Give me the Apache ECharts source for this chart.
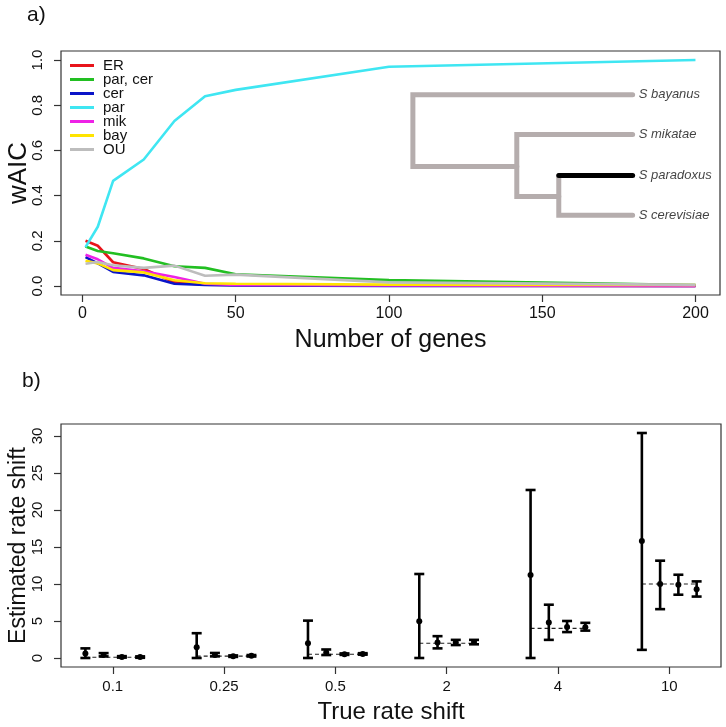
<!DOCTYPE html>
<html><head><meta charset="utf-8">
<script src="https://cdn.jsdelivr.net/npm/echarts@6/dist/echarts.min.js"></script>
<style>html,body{margin:0;padding:0;background:#fff}#c{width:726px;height:727px}</style>
</head><body><div id="c"></div>
<script>
// ---------- panel a) data ----------
const genes   = [1, 5, 10, 20, 30, 40, 50, 100, 200];
const wER     = [0.200, 0.178, 0.105, 0.075, 0.016, 0.006, 0.004, 0.001, 0.000];
const wParCer = [0.175, 0.155, 0.145, 0.122, 0.087, 0.080, 0.052, 0.026, 0.004];
const wCer    = [0.128, 0.100, 0.062, 0.047, 0.010, 0.005, 0.002, 0.000, 0.000];
const wPar    = [0.172, 0.262, 0.465, 0.560, 0.730, 0.840, 0.868, 0.970, 1.000];
const wMik    = [0.138, 0.118, 0.080, 0.065, 0.040, 0.010, 0.004, 0.002, 0.000];
const wBay    = [0.112, 0.100, 0.070, 0.060, 0.025, 0.012, 0.010, 0.006, 0.004];
const wOU     = [0.098, 0.106, 0.092, 0.080, 0.090, 0.045, 0.050, 0.016, 0.005];
const seriesNames = ['ER', 'par, cer', 'cer', 'par', 'mik', 'bay', 'OU'];
const seriesValues = [wER, wParCer, wCer, wPar, wMik, wBay, wOU];
const seriesColors = ['#e8141b', '#22bf22', '#0a14c8', '#3fe6f2', '#ee22e6', '#ffe400', '#bdbdbd'];
const xTicksA = [0, 50, 100, 150, 200];
const yTicksA = [0, 0.2, 0.4, 0.6, 0.8, 1.0];

// inset tree (in panel a data units)
const treeGray = [
  [[179.5, 0.846], [107.8, 0.846], [107.8, 0.529], [141.7, 0.529]],
  [[179.5, 0.670], [141.7, 0.670], [141.7, 0.396], [155.4, 0.396]],
  [[155.4, 0.489], [155.4, 0.313], [179.5, 0.313]]
];
const treeBlack = [[[155.4, 0.489], [179.5, 0.489]]];
const tipNames = ['S bayanus', 'S mikatae', 'S paradoxus', 'S cerevisiae'];
const tipX = 179.5;
const tipY = [0.846, 0.670, 0.489, 0.313];

// ---------- panel b) data ----------
const trueShift = ['0.1', '0.25', '0.5', '2', '4', '10'];
const trueValue = [0.1, 0.25, 0.5, 2, 4, 10];
const estMean = [[0.60, 0.42, 0.15, 0.12], [1.45, 0.42, 0.25, 0.30], [1.98, 0.75, 0.50, 0.55],
                 [4.95, 2.10, 2.10, 2.15], [11.2, 4.80, 4.20, 4.15], [15.8, 10.0, 9.90, 9.30]];
const estLow  = [[0.00, 0.22, 0.05, 0.03], [0.00, 0.22, 0.15, 0.20], [0.00, 0.40, 0.42, 0.45],
                 [0.00, 1.30, 1.75, 1.85], [0.00, 2.45, 3.50, 3.70], [1.10, 6.60, 8.55, 8.30]];
const estHigh = [[1.30, 0.66, 0.25, 0.22], [3.35, 0.68, 0.35, 0.40], [5.05, 1.15, 0.62, 0.65],
                 [11.35, 2.95, 2.45, 2.45], [22.7, 7.20, 5.00, 4.75], [30.4, 13.15, 11.25, 10.35]];
const yTicksB = [0, 5, 10, 15, 20, 25, 30];

// ---------- build ----------
const FONT = 'Liberation Sans';
const offsets = [-0.246, -0.082, 0.082, 0.246];
const barData = [];
estMean.forEach((g, i) => g.forEach((m, j) => {
  barData.push([i + 1 + offsets[j], estLow[i][j], estHigh[i][j], m]);
}));
const dashData = trueValue.map((v, i) => [i + 1, v]);

const chart = echarts.init(document.getElementById('c'), null, {renderer: 'canvas'});

const lineSeries = seriesNames.map((n, k) => ({
  name: n, type: 'line', xAxisIndex: 0, yAxisIndex: 0,
  data: genes.map((g, i) => [g, seriesValues[k][i]]),
  showSymbol: false, symbol: 'none', silent: true, animation: false,
  lineStyle: {color: seriesColors[k], width: 2.6},
  itemStyle: {color: seriesColors[k]}
}));

const tickStyle = {color: '#333', width: 1.2};
const nameStyle = (size) => ({fontSize: size, color: '#111', fontFamily: FONT, verticalAlign: 'middle', align: 'center'});

const option = {
  animation: false,
  backgroundColor: '#fff',
  textStyle: {fontFamily: FONT},
  graphic: [
    {type: 'text', left: 27, top: 5, style: {text: 'a)', font: '21px ' + FONT, fill: '#111'}},
    {type: 'text', left: 22, top: 371, style: {text: 'b)', font: '21px ' + FONT, fill: '#111'}}
  ],
  legend: {
    data: seriesNames, left: 70, top: 58, orient: 'vertical',
    itemWidth: 24, itemHeight: 3, itemGap: -1, icon: 'rect', padding: 0,
    textStyle: {fontSize: 15, lineHeight: 13, color: '#111', fontFamily: FONT, padding: [0, 0, 0, 4]},
    selectedMode: false
  },
  grid: [
    {left: 61, top: 51, width: 659, height: 244, show: true, borderColor: '#333', borderWidth: 1.2,
     backgroundColor: 'transparent', containLabel: false, outerBoundsMode: 'none'},
    {left: 61, top: 424, width: 660, height: 243, show: true, borderColor: '#333', borderWidth: 1.2,
     backgroundColor: 'transparent', containLabel: false, outerBoundsMode: 'none'}
  ],
  xAxis: [
    {type: 'value', gridIndex: 0, min: -7, max: 208,
     axisLine: {show: false, onZero: false}, splitLine: {show: false},
     axisTick: {show: true, length: 7, customValues: xTicksA, lineStyle: tickStyle},
     axisLabel: {customValues: xTicksA, fontSize: 16, color: '#111', margin: 11, fontFamily: FONT},
     name: 'Number of genes', nameLocation: 'middle', nameGap: 45, nameMoveOverlap: false,
     nameTextStyle: nameStyle(25)},
    {type: 'value', gridIndex: 1, min: 0.535, max: 6.465,
     axisLine: {show: false, onZero: false}, splitLine: {show: false},
     axisTick: {show: true, length: 7, customValues: [1, 2, 3, 4, 5, 6], lineStyle: tickStyle},
     axisLabel: {customValues: [1, 2, 3, 4, 5, 6], formatter: v => trueShift[Math.round(v) - 1],
                 fontSize: 15, color: '#111', margin: 12, fontFamily: FONT},
     name: 'True rate shift', nameLocation: 'middle', nameGap: 45, nameMoveOverlap: false,
     nameTextStyle: nameStyle(24)}
  ],
  yAxis: [
    {type: 'value', gridIndex: 0, min: -0.04, max: 1.04,
     axisLine: {show: false, onZero: false}, splitLine: {show: false},
     axisTick: {show: true, length: 7, customValues: yTicksA, lineStyle: tickStyle},
     axisLabel: {customValues: yTicksA, formatter: v => v.toFixed(1), rotate: 90, fontSize: 15,
                 color: '#111', margin: 16, fontFamily: FONT},
     name: 'wAIC', nameLocation: 'middle', nameGap: 42, nameRotate: 90, nameMoveOverlap: false,
     nameTextStyle: nameStyle(26)},
    {type: 'value', gridIndex: 1, min: -1.216, max: 31.616,
     axisLine: {show: false, onZero: false}, splitLine: {show: false},
     axisTick: {show: true, length: 7, customValues: yTicksB, lineStyle: tickStyle},
     axisLabel: {customValues: yTicksB, rotate: 90, fontSize: 15, color: '#111', margin: 16, fontFamily: FONT},
     name: 'Estimated rate shift', nameLocation: 'middle', nameGap: 42, nameRotate: 90, nameMoveOverlap: false,
     nameTextStyle: nameStyle(23)}
  ],
  series: [
    // tree
    {type: 'lines', coordinateSystem: 'cartesian2d', xAxisIndex: 0, yAxisIndex: 0, polyline: true, silent: true,
     data: treeGray.map(c => ({coords: c})),
     lineStyle: {color: '#b5adad', width: 5, opacity: 1, cap: 'round', join: 'miter'}},
    {type: 'lines', coordinateSystem: 'cartesian2d', xAxisIndex: 0, yAxisIndex: 0, polyline: true, silent: true,
     data: treeBlack.map(c => ({coords: c})),
     lineStyle: {color: '#000', width: 5, opacity: 1, cap: 'round'}},
    {type: 'scatter', xAxisIndex: 0, yAxisIndex: 0, symbolSize: 0, silent: true,
     data: tipNames.map((n, i) => ({value: [tipX, tipY[i]], name: n})),
     label: {show: true, position: 'right', distance: 6, formatter: p => p.name,
             fontSize: 13, fontStyle: 'italic', color: '#111', fontFamily: FONT}},
    ...lineSeries,
    // dashed true-value lines
    {type: 'custom', xAxisIndex: 1, yAxisIndex: 1, silent: true, data: dashData,
     renderItem: (params, api) => {
       const x = api.value(0), v = api.value(1);
       const a = api.coord([x + offsets[0], v]), b = api.coord([x + offsets[3], v]);
       return {type: 'line', shape: {x1: a[0], y1: a[1], x2: b[0], y2: b[1]},
               style: {stroke: '#222', lineWidth: 1.1, lineDash: [4, 3]}};
     }},
    // error bars
    {type: 'custom', xAxisIndex: 1, yAxisIndex: 1, silent: true, data: barData,
     renderItem: (params, api) => {
       const x = api.value(0);
       const lo = api.coord([x, api.value(1)]), hi = api.coord([x, api.value(2)]), m = api.coord([x, api.value(3)]);
       const cw = 5, st = {stroke: '#000', lineWidth: 2.6};
       return {type: 'group', children: [
         {type: 'line', shape: {x1: lo[0], y1: lo[1], x2: hi[0], y2: hi[1]}, style: st},
         {type: 'line', shape: {x1: lo[0] - cw, y1: lo[1], x2: lo[0] + cw, y2: lo[1]}, style: st},
         {type: 'line', shape: {x1: hi[0] - cw, y1: hi[1], x2: hi[0] + cw, y2: hi[1]}, style: st},
         {type: 'circle', shape: {cx: m[0], cy: m[1], r: 3}, style: {fill: '#000'}}
       ]};
     }}
  ]
};
chart.setOption(option);
</script>
</body></html>
